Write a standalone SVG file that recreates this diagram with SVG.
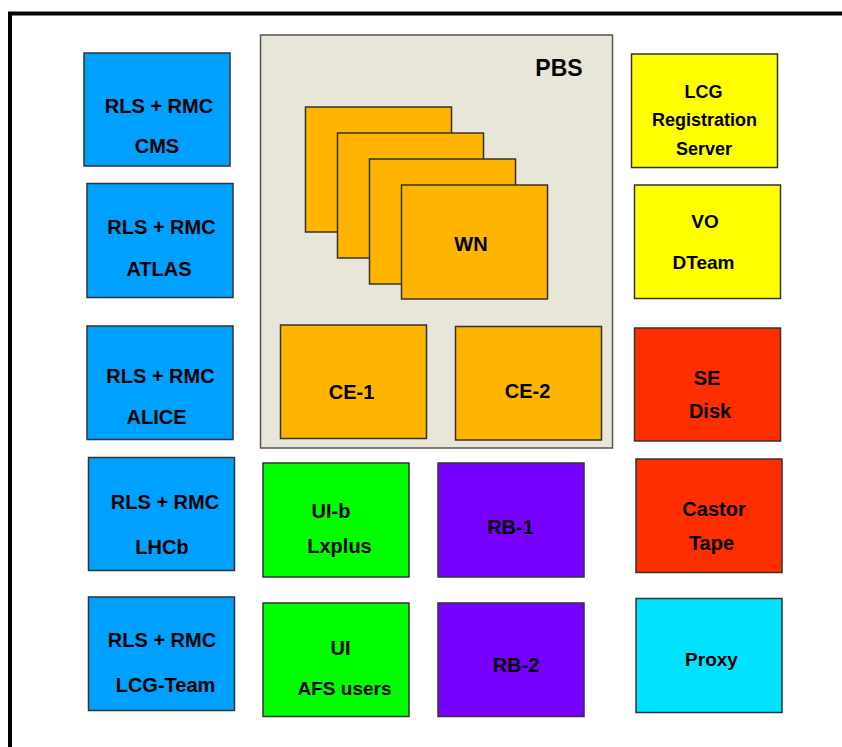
<svg xmlns="http://www.w3.org/2000/svg" width="842" height="747" viewBox="0 0 842 747">
<style>
  .box { stroke: #333333; stroke-width: 1.5; }
  .blue { fill: #00A0FF; }
  .yellow { fill: #FFFF00; }
  .red { fill: #FF2E00; }
  .cyan { fill: #00E2FF; }
  .green { fill: #00FF00; }
  .purple { fill: #7800FF; }
  .orange { fill: #FFB500; }
  .pbs { fill: #E8E6D8; stroke: #555555; stroke-width: 1.5; }
  text { font-family: "Liberation Sans", Arial, sans-serif; font-weight: bold; fill: #000000; text-anchor: middle; }
  .t20 { font-size: 20px; }
  .t19 { font-size: 19px; }
  .t18 { font-size: 18px; }
  .t23 { font-size: 23px; }
</style>
<rect x="0" y="0" width="842" height="747" fill="#FFFFFF"/>
<rect id="frame" x="10" y="13.5" width="900" height="800" fill="none" stroke="#000000" stroke-width="4"/>

<g id="connectors"></g>

<g id="cms">
  <rect class="box blue" x="84" y="53" width="146" height="113"/>
  <text class="t20" x="159" y="113">RLS + RMC</text>
  <text class="t20" x="157" y="153">CMS</text>
</g>
<g id="atlas">
  <rect class="box blue" x="87" y="183.5" width="146" height="114"/>
  <text class="t20" x="161.5" y="234">RLS + RMC</text>
  <text class="t20" x="159" y="276">ATLAS</text>
</g>
<g id="alice">
  <rect class="box blue" x="87" y="326" width="146" height="113.5"/>
  <text class="t20" x="160.5" y="382.5">RLS + RMC</text>
  <text class="t20" x="156.5" y="424">ALICE</text>
</g>
<g id="lhcb">
  <rect class="box blue" x="88.5" y="457.5" width="146" height="113"/>
  <text class="t20" x="165" y="509">RLS + RMC</text>
  <text class="t20" x="162" y="554">LHCb</text>
</g>
<g id="lcgteam">
  <rect class="box blue" x="88.5" y="597" width="146" height="113.5"/>
  <text class="t20" x="162" y="646.5">RLS + RMC</text>
  <text class="t20" x="165.5" y="692">LCG-Team</text>
</g>

<g id="pbs">
  <rect class="pbs" x="260.5" y="35" width="352" height="413"/>
  <text class="t23" x="559" y="76">PBS</text>
</g>
<g id="wn">
  <rect class="box orange" x="305.5" y="107" width="146" height="125"/>
  <rect class="box orange" x="337.5" y="133" width="146" height="125"/>
  <rect class="box orange" x="369.5" y="159" width="146" height="125"/>
  <rect class="box orange" x="401.5" y="185" width="146" height="114"/>
  <text class="t20" x="471" y="251">WN</text>
</g>
<g id="ce1">
  <rect class="box orange" x="280.5" y="325" width="146" height="113.5"/>
  <text class="t20" x="351.5" y="399">CE-1</text>
</g>
<g id="ce2">
  <rect class="box orange" x="455.5" y="326.5" width="146" height="113.5"/>
  <text class="t20" x="527.5" y="397.5">CE-2</text>
</g>

<g id="uib">
  <rect class="box green" x="263" y="463" width="146" height="114"/>
  <text class="t20" x="331" y="518">UI-b</text>
  <text class="t20" x="339.5" y="553">Lxplus</text>
</g>
<g id="rb1">
  <rect class="box purple" x="438" y="463" width="146" height="114"/>
  <text class="t20" x="510.5" y="534">RB-1</text>
</g>
<g id="ui">
  <rect class="box green" x="263" y="603" width="146" height="113.5"/>
  <text class="t20" x="340.5" y="655">UI</text>
  <text class="t19" x="344.5" y="695">AFS users</text>
</g>
<g id="rb2">
  <rect class="box purple" x="438" y="603" width="146" height="113.5"/>
  <text class="t20" x="516" y="672">RB-2</text>
</g>

<g id="lcgreg">
  <rect class="box yellow" x="631.5" y="54" width="146" height="113.5"/>
  <text class="t18" x="703.5" y="98">LCG</text>
  <text class="t18" x="704.5" y="126">Registration</text>
  <text class="t18" x="704" y="155">Server</text>
</g>
<g id="vo">
  <rect class="box yellow" x="634.5" y="185" width="146" height="113.5"/>
  <text class="t19" x="705" y="228">VO</text>
  <text class="t19" x="703.5" y="269">DTeam</text>
</g>
<g id="se">
  <rect class="box red" x="634.5" y="328" width="146" height="113"/>
  <text class="t20" x="707" y="385">SE</text>
  <text class="t20" x="710" y="418">Disk</text>
</g>
<g id="castor">
  <rect class="box red" x="636" y="459" width="146" height="113.5"/>
  <text class="t20" x="714" y="516">Castor</text>
  <text class="t20" x="711.5" y="550">Tape</text>
</g>
<g id="proxy">
  <rect class="box cyan" x="636" y="598.5" width="146" height="114"/>
  <text class="t19" x="711.5" y="666">Proxy</text>
</g>
</svg>
